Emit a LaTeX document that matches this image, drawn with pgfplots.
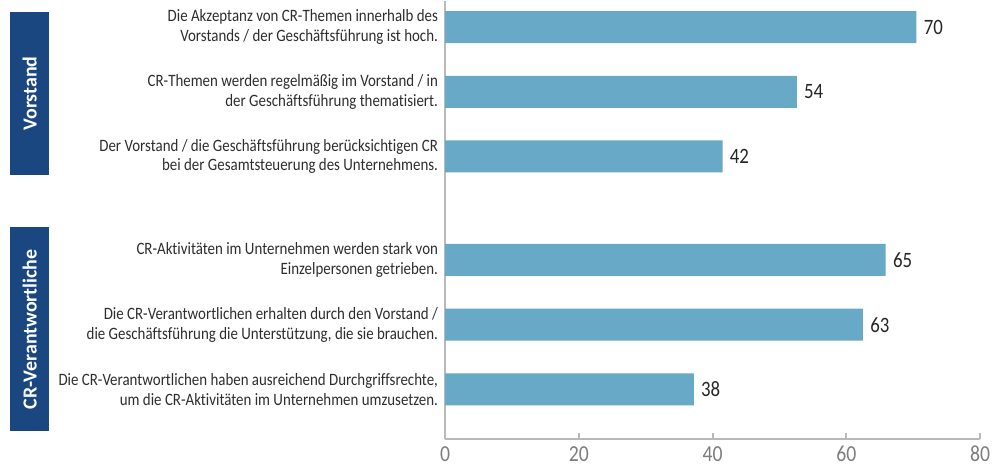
\documentclass[border=0pt]{standalone}
\usepackage{fontspec}
\setmainfont{Carlito}[FakeStretch=0.86, Ligatures=NoCommon]
\newfontfamily\boxfont{Carlito}[Ligatures=NoCommon]
\usepackage{pgfplots}
\pgfplotsset{compat=1.18}
\definecolor{barblue}{RGB}{103,169,198}
\definecolor{boxblue}{RGB}{26,71,128}
\definecolor{axisgray}{RGB}{185,185,185}
\definecolor{labelgray}{RGB}{45,45,45}
\definecolor{tickgray}{RGB}{125,125,125}

\begin{document}
\begin{tikzpicture}
\begin{axis}[
    xbar,
    bar width=16bp,
    scale only axis,
    width=267.5bp,
    height=219bp,
    xmin=0, xmax=80,
    ymin=0.23, ymax=7.0,
    axis x line*=bottom,
    axis y line*=left,
    axis line style={draw=axisgray, line width=1.2bp},
    xtick={0,20,40,60,80},
    tick align=inside,
    major tick length=3bp,
    xtick style={draw=axisgray, line width=1bp},
    ytick style={draw=none},
    ytick={1,2,3,4.6,5.6,6.6},
    yticklabels={
        {Die CR-Verantwortlichen haben ausreichend Durchgriffsrechte,\\um die CR-Aktivitäten im Unternehmen umzusetzen.},
        {Die CR-Verantwortlichen erhalten durch den Vorstand /\\die Geschäftsführung die Unterstützung, die sie brauchen.},
        {CR-Aktivitäten im Unternehmen werden stark von\\Einzelpersonen getrieben.},
        {Der Vorstand / die Geschäftsführung berücksichtigen CR\\bei der Gesamtsteuerung des Unternehmens.},
        {CR-Themen werden regelmäßig im Vorstand / in\\der Geschäftsführung thematisiert.},
        {Die Akzeptanz von CR-Themen innerhalb des\\Vorstands / der Geschäftsführung ist hoch.}
    },
    y tick label style={align=right, font=\fontsize{8.7}{9.9}\selectfont, text=labelgray},
    x tick label style={font=\fontsize{11.5}{12}\selectfont, text=tickgray},
    /pgf/number format/assume math mode=true,
    point meta=explicit symbolic,
    nodes near coords={\pgfplotspointmeta},
    nodes near coords style={anchor=west, inner xsep=3.5bp, font=\fontsize{11}{12}\selectfont, text=black!85},
    clip=false,
]
% bar lengths as drawn, labels as printed
\addplot[fill=barblue, draw=none] coordinates {
    (37.2,1) [38] (62.5,2) [63] (65.9,3) [65] (41.5,4.6) [42] (52.6,5.6) [54] (70.5,6.6) [70]
};
\fill[boxblue] (axis cs:-65,6.83) rectangle (axis cs:-59.2,4.32);
\node[rotate=90, text=white, font=\boxfont\bfseries\fontsize{10}{12}\selectfont]
    at (axis cs:-62.1,5.575) {Vorstand};
\fill[boxblue] (axis cs:-65,3.51) rectangle (axis cs:-59.2,0.35);
\node[rotate=90, text=white, font=\boxfont\bfseries\fontsize{10}{12}\selectfont]
    at (axis cs:-62.1,1.93) {CR-Verantwortliche};
\path (rel axis cs:-0.8318,1.0) (rel axis cs:1.0486,-0.0776);
\end{axis}
\end{tikzpicture}
\end{document}
